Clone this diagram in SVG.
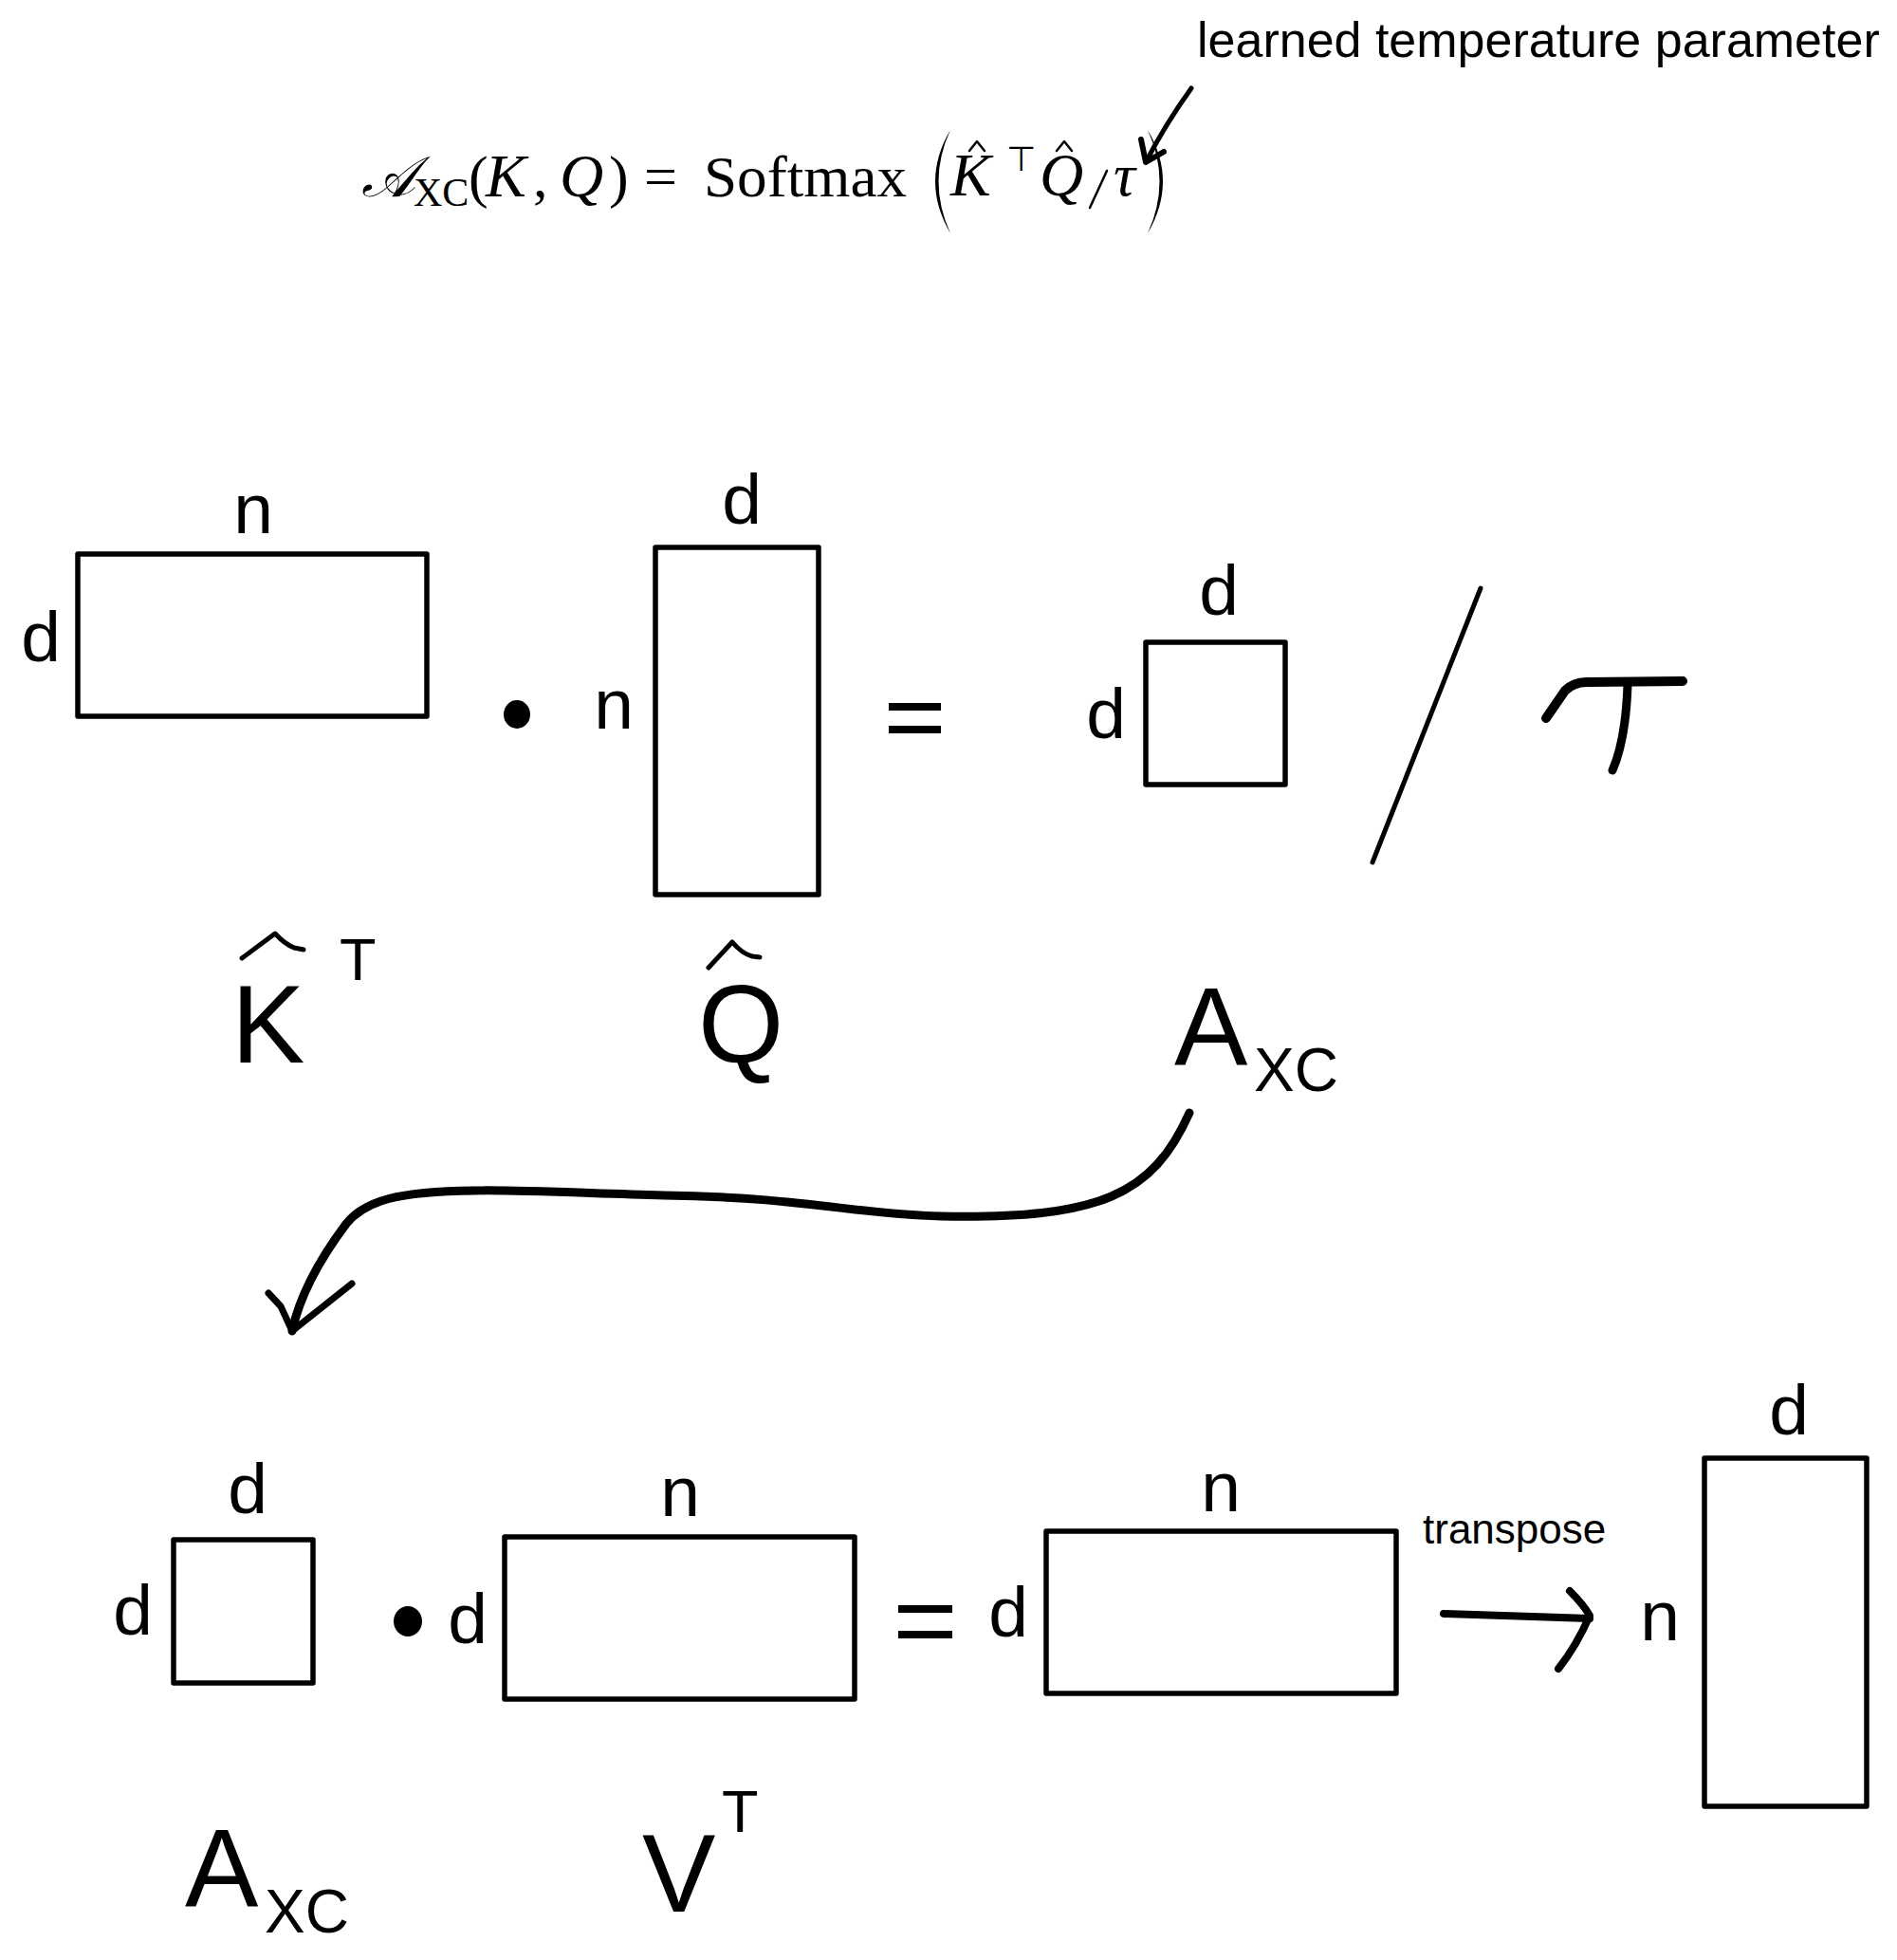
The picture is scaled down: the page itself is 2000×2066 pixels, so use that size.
<svg xmlns="http://www.w3.org/2000/svg" width="2000" height="2066" viewBox="0 0 2000 2066">
<style>
.lbl{font-family:"Liberation Sans",Arial,sans-serif;font-size:75px;fill:#000;text-anchor:middle}
.big{font-family:"Liberation Sans",Arial,sans-serif;font-size:116px;fill:#000}
.sub{font-family:"Liberation Sans",Arial,sans-serif;font-size:64px;fill:#000}
.sup{font-family:"Liberation Sans",Arial,sans-serif;font-size:63px;fill:#000}
.m{font-family:"Liberation Serif","Times New Roman",serif;font-size:62px;fill:#000}
.mi{font-family:"Liberation Serif","Times New Roman",serif;font-size:64px;font-style:italic;fill:#000}
.box{fill:none;stroke:#000;stroke-width:5.5;stroke-linejoin:round}
.pen{fill:none;stroke:#000;stroke-linecap:round;stroke-linejoin:round}
</style>
<rect width="2000" height="2066" fill="#fff"/>

<g id="formula">
  <text class="mi" x="381" y="207" style="font-family:'DejaVu Serif','Liberation Serif',serif;font-size:60px">𝒜</text>
  <text class="m" x="436" y="217" style="font-size:42px">XC</text>
  <text class="m" x="494" y="207">(</text>
  <text class="mi" x="512" y="207">K</text>
  <text class="m" x="562" y="207">,</text>
  <text class="mi" x="590" y="207">Q</text>
  <text class="m" x="642" y="207">)</text>
  <text class="m" x="679" y="207">=</text>
  <text class="m" x="742" y="207" textLength="214" lengthAdjust="spacingAndGlyphs">Softmax</text>
  <path fill="#000" d="M1002,137 Q970,191 1002,246 Q977,191 1002,137 Z"/>
  <text class="mi" x="1002" y="206">K</text>
  <path class="pen" stroke-width="2.5" d="M1022,159 L1030,149 L1038,159"/>
  <text x="1061" y="180" style="font-family:'DejaVu Sans',sans-serif;font-size:36px">⊤</text>
  <text class="mi" x="1096" y="206">Q</text>
  <path class="pen" stroke-width="2.5" d="M1114,159 L1122,149 L1130,159"/>
  <path class="pen" stroke-width="2.5" d="M1167,180 L1149,219"/>
  <text class="mi" x="1174" y="206">τ</text>
  <path fill="#000" d="M1210,137 Q1242,191 1210,246 Q1235,191 1210,137 Z"/>
</g>

<g id="note">
  <text x="1262" y="60" style="font-family:'Liberation Sans',Arial,sans-serif;font-size:52px">learned temperature parameter</text>
</g>

<g id="matrix-KT">
  <rect class="box" x="82" y="584" width="368" height="171"/>
  <text class="lbl" x="267" y="562">n</text>
  <text class="lbl" x="43" y="697">d</text>
  <path class="pen" stroke-width="5" d="M255,1010 L290,984 Q300,995 310,999 L320,1001"/>
  <text class="big" x="244" y="1120">K</text>
  <text class="sup" x="358" y="1033">T</text>
</g>

<g id="dot-1"><ellipse cx="545" cy="753" rx="14" ry="15" fill="#000"/></g>

<g id="matrix-Q">
  <rect class="box" x="691" y="577" width="172" height="366"/>
  <text class="lbl" x="782" y="552">d</text>
  <text class="lbl" x="647" y="768">n</text>
  <path class="pen" stroke-width="5" d="M747,1020 L772,993 Q782,1005 793,1008 L801,1009"/>
  <text class="big" x="736" y="1120">Q</text>
</g>

<g id="equals-1">
  <rect x="937" y="741" width="55" height="8" fill="#000"/>
  <rect x="937" y="765" width="55" height="8" fill="#000"/>
</g>

<g id="matrix-A">
  <rect class="box" x="1208" y="677" width="147" height="150"/>
  <text class="lbl" x="1285" y="648">d</text>
  <text class="lbl" x="1166" y="778">d</text>
  <text class="big" x="1238" y="1123">A</text>
  <text class="sub" x="1322" y="1150">XC</text>
</g>

<g id="divide">
  <path class="pen" stroke-width="5" d="M1561,620 L1447,909"/>
  <path class="pen" stroke-width="10" d="M1630,757 L1650,728 Q1660,718 1675,719 L1774,718"/>
  <path class="pen" stroke-width="9" d="M1716,722 Q1714,780 1700,812"/>
</g>

<g id="matrix-A2">
  <rect class="box" x="183" y="1623" width="147" height="151"/>
  <text class="lbl" x="261" y="1595">d</text>
  <text class="lbl" x="140" y="1723">d</text>
  <text class="big" x="195" y="2010">A</text>
  <text class="sub" x="279" y="2037">XC</text>
</g>

<g id="dot-2"><ellipse cx="430" cy="1709" rx="15" ry="16" fill="#000"/></g>

<g id="matrix-VT">
  <rect class="box" x="532" y="1620" width="369" height="171"/>
  <text class="lbl" x="717" y="1598">n</text>
  <text class="lbl" x="493" y="1732">d</text>
  <text class="big" x="677" y="2015">V</text>
  <text class="sup" x="761" y="1931">T</text>
</g>

<g id="equals-2">
  <rect x="947" y="1692" width="57" height="8" fill="#000"/>
  <rect x="947" y="1719" width="57" height="8" fill="#000"/>
</g>

<g id="matrix-out">
  <rect class="box" x="1103" y="1614" width="369" height="171"/>
  <text class="lbl" x="1287" y="1593">n</text>
  <text class="lbl" x="1063" y="1725">d</text>
</g>

<g id="matrix-final">
  <rect class="box" x="1797" y="1537" width="171" height="367"/>
  <text class="lbl" x="1886" y="1512">d</text>
  <text class="lbl" x="1750" y="1729">n</text>
</g>

<g id="connectors">
  <path class="pen" stroke-width="5" d="M1256,93 Q1228,132 1208,171"/>
  <path class="pen" stroke-width="6" d="M1203,147 L1208,171 L1227,160"/>
  <path class="pen" stroke-width="9" d="M1254,1173 C1215,1260 1160,1285 992,1282 C900,1280 850,1262 700,1260 C600,1257 540,1254 500,1255 C420,1256 385,1265 365,1290 C335,1330 315,1370 308,1403"/>
  <path class="pen" stroke-width="7" d="M283,1363 L296,1377 L308,1403 L371,1353"/>
  <path class="pen" stroke-width="8" d="M1522,1701 L1676,1706"/>
  <path class="pen" stroke-width="8" d="M1655,1677 Q1670,1692 1676,1703 Q1662,1735 1643,1759"/>
  <text x="1500" y="1627" style="font-family:'Liberation Sans',Arial,sans-serif;font-size:44px">transpose</text>
</g>
</svg>
